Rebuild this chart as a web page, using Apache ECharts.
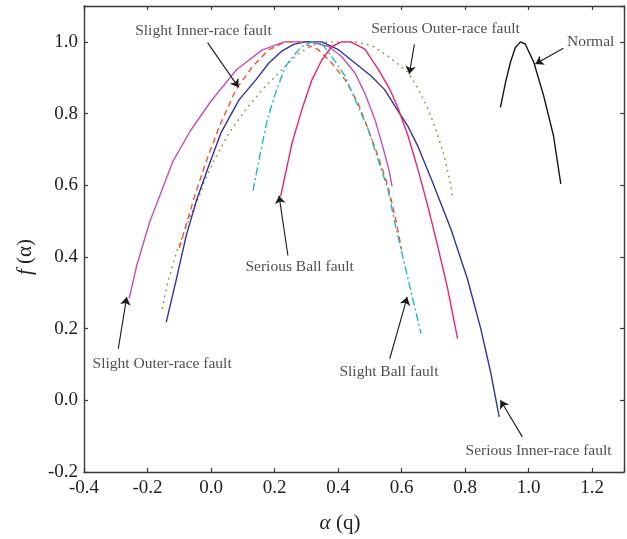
<!DOCTYPE html>
<html>
<head>
<meta charset="utf-8">
<style>
  html, body { margin: 0; padding: 0; background: #fff; }
  #chart { width: 627px; height: 539px; }
</style>
<script src="https://cdn.jsdelivr.net/npm/echarts@6/dist/echarts.min.js"></script>
</head>
<body>
<div id="chart"></div>
<script>
// Multifractal spectra f(α) for each bearing condition, as [α, f(α)] pairs
const slightOuterRace = [
  [-0.258, 0.284], [-0.234, 0.376], [-0.193, 0.498], [-0.162, 0.569], [-0.121, 0.665],
  [-0.065, 0.752], [0.0, 0.835], [0.08, 0.922], [0.16, 0.977], [0.23, 1.0], [0.31, 1.0],
  [0.37, 0.987], [0.411, 0.959], [0.453, 0.913], [0.484, 0.857], [0.516, 0.783],
  [0.54, 0.709], [0.56, 0.643], [0.57, 0.597]
];
const slightInnerRace = [
  [-0.10, 0.425], [-0.075, 0.5], [-0.052, 0.569], [-0.016, 0.665], [0.026, 0.764],
  [0.078, 0.866], [0.13, 0.931], [0.182, 0.978], [0.234, 1.0], [0.28, 1.0],
  [0.338, 0.978], [0.38, 0.941], [0.422, 0.894], [0.463, 0.829], [0.495, 0.755],
  [0.526, 0.681], [0.557, 0.597], [0.58, 0.51], [0.60, 0.42]
];
const seriousInnerRace = [
  [-0.141, 0.218], [-0.109, 0.339], [-0.078, 0.46], [-0.045, 0.56], [-0.008, 0.652],
  [0.031, 0.746], [0.088, 0.838], [0.141, 0.894], [0.182, 0.941], [0.224, 0.975],
  [0.26, 0.993], [0.297, 1.0], [0.349, 1.0], [0.401, 0.978], [0.453, 0.941],
  [0.505, 0.904], [0.547, 0.866], [0.583, 0.815], [0.62, 0.764], [0.651, 0.709],
  [0.693, 0.618], [0.755, 0.478], [0.807, 0.339], [0.849, 0.2], [0.88, 0.079], [0.907, -0.046]
];
const seriousOuterRace = [
  [-0.154, 0.255], [-0.136, 0.33], [-0.109, 0.413], [-0.078, 0.487], [-0.037, 0.571],
  [-0.021, 0.61], [0.016, 0.681], [0.057, 0.746], [0.109, 0.811], [0.161, 0.866],
  [0.213, 0.913], [0.245, 0.943], [0.276, 0.968], [0.32, 0.99], [0.37, 1.0], [0.42, 1.0],
  [0.453, 1.0], [0.505, 0.99], [0.557, 0.96], [0.60, 0.93], [0.62, 0.915], [0.651, 0.87],
  [0.682, 0.815], [0.708, 0.755], [0.734, 0.682], [0.755, 0.60], [0.76, 0.561]
];
const slightBall = [
  [0.132, 0.584], [0.151, 0.671], [0.177, 0.783], [0.203, 0.857], [0.234, 0.931],
  [0.26, 0.962], [0.286, 0.987], [0.3175, 1.0], [0.349, 0.994], [0.38, 0.959],
  [0.422, 0.904], [0.463, 0.82], [0.495, 0.755], [0.526, 0.671], [0.557, 0.588],
  [0.578, 0.497], [0.62, 0.339], [0.661, 0.186]
];
const seriousBall = [
  [0.219, 0.569], [0.255, 0.718], [0.286, 0.811], [0.3175, 0.894], [0.349, 0.95],
  [0.38, 0.987], [0.411, 1.0], [0.44, 1.0], [0.484, 0.98], [0.526, 0.924],
  [0.5625, 0.868], [0.588, 0.817], [0.62, 0.738], [0.651, 0.645], [0.682, 0.543],
  [0.713, 0.432], [0.745, 0.311], [0.776, 0.172]
];
const normal = [
  [0.911, 0.817], [0.927, 0.887], [0.9425, 0.943], [0.958, 0.984], [0.974, 1.0],
  [0.989, 0.994], [1.016, 0.943], [1.047, 0.85], [1.078, 0.738], [1.101, 0.604]
];

// Annotation text positions [α, f] and the arrows pointing at each curve
const noteNames = [
  'Slight Inner-race fault', 'Serious Outer-race fault', 'Normal', 'Serious Ball fault',
  'Slight Outer-race fault', 'Slight Ball fault', 'Serious Inner-race fault'
];
const notePositions = [
  [-0.024, 1.03], [0.738, 1.035], [1.195, 0.999], [0.279, 0.372],
  [-0.154, 0.102], [0.560, 0.080], [1.031, -0.142]
];
const arrowStarts = [
  [-0.011, 0.998], [0.64, 0.993], [1.109, 0.982], [0.242, 0.404],
  [-0.292, 0.144], [0.5625, 0.116], [0.98, -0.102]
];
const arrowTips = [
  [0.0866, 0.873], [0.624, 0.91], [1.021, 0.938], [0.214, 0.571],
  [-0.2656, 0.288], [0.6175, 0.288], [0.911, 0.0]
];

// Axis tick settings
const xMin = -0.4, xMax = 1.3, xStep = 0.2;
const yMin = -0.2, yMax = 1.1, yStep = 0.2;

const serifFont = '"Liberation Serif", "DejaVu Serif", serif';
const axisColor = '#3a3a3a';

function onStep(v, step) {
  const k = v / step;
  return Math.abs(k - Math.round(k)) < 1e-6;
}
function tickText(step) {
  return function (v) { return onStep(v, step) ? v.toFixed(1) : ''; };
}

function makeAxis(kind, position, min, max, step, showLabels) {
  return {
    type: 'value',
    position: position,
    min: min, max: max, interval: step,
    splitLine: { show: false },
    axisLine: { show: true, onZero: false, lineStyle: { color: axisColor, width: 1.4 } },
    axisTick: { show: true, inside: true, length: 4, lineStyle: { color: axisColor, width: 1.2 } },
    axisLabel: {
      show: showLabels,
      formatter: tickText(step),
      color: '#222222',
      fontFamily: serifFont,
      fontSize: 19,
      margin: kind === 'x' ? 7 : 6,
      showMinLabel: true, showMaxLabel: true
    }
  };
}

const xBottom = makeAxis('x', 'bottom', xMin, xMax, xStep, true);
xBottom.name = '{i|α} (q)';
xBottom.nameLocation = 'middle';
xBottom.nameGap = 41;
xBottom.nameTextStyle = {
  color: '#222222', fontFamily: serifFont, fontSize: 21,
  padding: [0, 28, 0, 0],
  rich: { i: { fontStyle: 'italic', fontFamily: serifFont, fontSize: 21, color: '#222222' } }
};
const xTop = makeAxis('x', 'top', xMin, xMax, xStep, false);

const yLeft = makeAxis('y', 'left', yMin, yMax, yStep, true);
yLeft.name = '{i|f} (α)';
yLeft.nameLocation = 'middle';
yLeft.nameGap = 48;
yLeft.nameTextStyle = {
  color: '#222222', fontFamily: serifFont, fontSize: 21,
  padding: [0, 36, 0, 0],
  rich: { i: { fontStyle: 'italic', fontFamily: serifFont, fontSize: 21, color: '#222222' } }
};
const yRight = makeAxis('y', 'right', yMin, yMax, yStep, false);

function curve(name, data, color, type) {
  return {
    name: name,
    type: 'line',
    data: data,
    showSymbol: false,
    symbol: 'none',
    smooth: false,
    clip: true,
    lineStyle: { color: color, width: 1.4, type: type }
  };
}

const chart = echarts.init(document.getElementById('chart'), null, { renderer: 'canvas' });
chart.setOption({
  animation: false,
  backgroundColor: '#ffffff',
  grid: { left: 84, right: -1, top: 6, bottom: 66, containLabel: false },
  xAxis: [xBottom, xTop],
  yAxis: [yLeft, yRight],
  series: [
    curve('Slight Outer-race fault', slightOuterRace, '#c44fb5', 'solid'),
    curve('Serious Outer-race fault', seriousOuterRace, '#8f8f3a', [1.8, 4.2]),
    curve('Serious Inner-race fault', seriousInnerRace, '#33339f', 'solid'),
    curve('Slight Inner-race fault', slightInnerRace, '#f4532c', [6, 4]),
    curve('Slight Ball fault', slightBall, '#1fbcbc', [8, 3, 2, 3]),
    curve('Serious Ball fault', seriousBall, '#ee2468', 'solid'),
    curve('Normal', normal, '#151515', 'solid'),
    {
      name: 'arrows',
      type: 'lines',
      coordinateSystem: 'cartesian2d',
      symbol: ['none', 'arrow'],
      symbolSize: 8,
      lineStyle: { color: '#1a1a1a', width: 1.1, opacity: 1 },
      data: arrowStarts.map(function (s, i) { return { coords: [s, arrowTips[i]] }; }),
      silent: true,
      z: 5
    },
    {
      name: 'notes',
      type: 'scatter',
      symbolSize: 1,
      itemStyle: { color: 'rgba(0,0,0,0)' },
      data: notePositions.map(function (p, i) { return { value: p, name: noteNames[i] }; }),
      label: {
        show: true,
        position: 'inside',
        formatter: '{b}',
        color: '#222222',
        fontFamily: serifFont,
        fontSize: 15.5
      },
      silent: true,
      z: 6
    }
  ]
});
</script>
</body>
</html>
